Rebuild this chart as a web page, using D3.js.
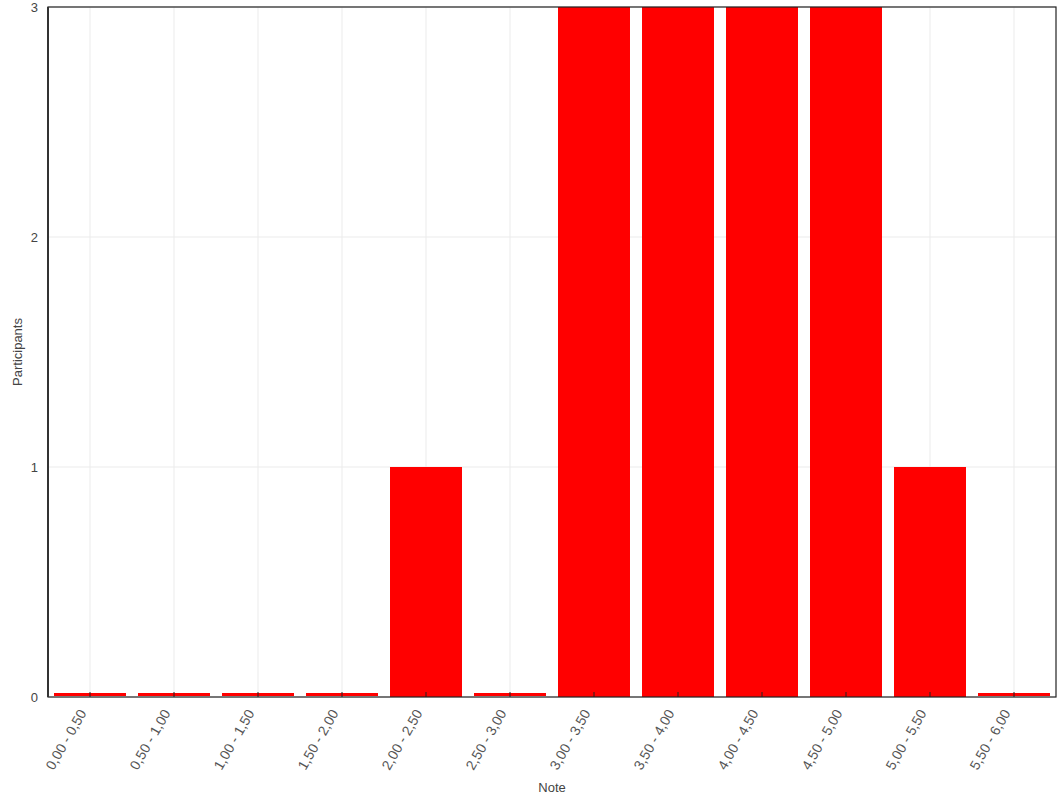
<!DOCTYPE html>
<html><head><meta charset="utf-8">
<script src="https://cdn.jsdelivr.net/npm/d3@7"></script>
<style>body{margin:0;background:#fff;font-family:"Liberation Sans",Arial,sans-serif}</style>
</head><body><svg id="c" width="1060" height="795"></svg>
<script>
const categories = ["0,00 - 0,50","0,50 - 1,00","1,00 - 1,50","1,50 - 2,00","2,00 - 2,50","2,50 - 3,00","3,00 - 3,50","3,50 - 4,00","4,00 - 4,50","4,50 - 5,00","5,00 - 5,50","5,50 - 6,00"];
const participants = [0,0,0,0,1,0,3,3,3,3,1,0];
const yTicks = [0,1,2,3];
const xTitle = "Note", yTitle = "Participants";

const svg = d3.select("#c");
const m = {l:48, t:7, r:1056, b:697};
const x = d3.scaleBand().domain(categories).range([m.l, m.r]).paddingInner(0.143).paddingOuter(0.0715);
const y = d3.scaleLinear().domain([0,3]).range([m.b, m.t]);
const g = svg.append("g");
// grid
g.selectAll(".vg").data(categories).enter().append("line")
  .attr("x1", d=>x(d)+x.bandwidth()/2).attr("x2", d=>x(d)+x.bandwidth()/2)
  .attr("y1", m.t).attr("y2", m.b).attr("stroke","#ebebeb").attr("stroke-width",1);
g.selectAll(".hg").data(yTicks).enter().append("line")
  .attr("x1", m.l).attr("x2", m.r).attr("y1", d=>y(d)).attr("y2", d=>y(d))
  .attr("stroke","#ebebeb").attr("stroke-width",1);
// bars
g.selectAll(".bar").data(categories).enter().append("rect")
  .attr("x", d=>x(d)).attr("width", x.bandwidth())
  .attr("y", (d,i)=> participants[i]===0 ? m.b-4 : y(participants[i]))
  .attr("height", (d,i)=> participants[i]===0 ? 3 : m.b - y(participants[i]))
  .attr("fill","#ff0000");
// frame
svg.append("rect").attr("x",m.l).attr("y",m.t).attr("width",m.r-m.l).attr("height",m.b-m.t)
  .attr("fill","none").attr("stroke","#222").attr("stroke-width",1.2);
svg.append("line").attr("x1",m.l).attr("x2",m.l).attr("y1",m.t).attr("y2",m.b).attr("stroke","#333").attr("stroke-width",2);
// x ticks (inward)
g.selectAll(".xt").data(categories).enter().append("line")
  .attr("x1", d=>x(d)+x.bandwidth()/2).attr("x2", d=>x(d)+x.bandwidth()/2)
  .attr("y1", m.b).attr("y2", m.b-5).attr("stroke","#222");
// x labels
g.selectAll(".xl").data(categories).enter().append("text")
  .attr("transform", d=>`translate(${x(d)+x.bandwidth()/2-3},${m.b+16}) rotate(-60)`)
  .attr("text-anchor","end").attr("font-size",14).attr("fill","#555").text(d=>d);
// y labels
g.selectAll(".yl").data(yTicks).enter().append("text")
  .attr("x", 38).attr("y", d=>y(d)+5).attr("text-anchor","end")
  .attr("font-size",13).attr("fill","#444").text(d=>d);
svg.append("text").attr("x",552).attr("y",792).attr("text-anchor","middle").attr("font-size",13).attr("fill","#444").text(xTitle);
svg.append("text").attr("transform","translate(22,352) rotate(-90)").attr("text-anchor","middle").attr("font-size",13).attr("fill","#444").text(yTitle);
</script></body></html>
